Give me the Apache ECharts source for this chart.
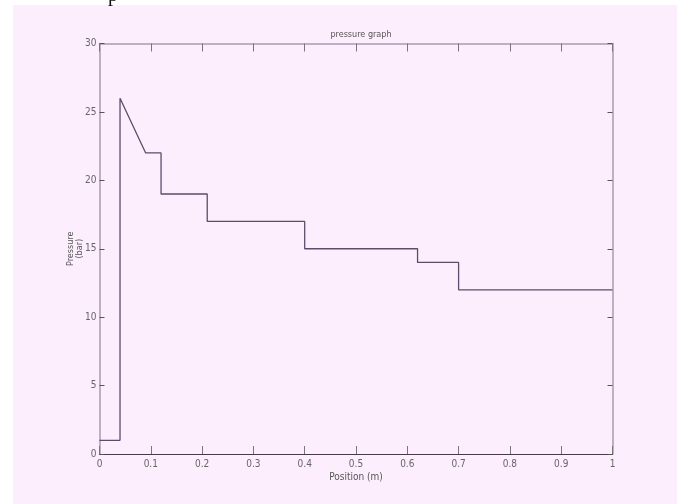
<!DOCTYPE html>
<html>
<head>
<meta charset="utf-8">
<script src="https://cdn.jsdelivr.net/npm/echarts@6/dist/echarts.min.js"></script>
<style>
html,body{margin:0;padding:0;background:#fff;}
#c{width:680px;height:504px;}
</style>
</head>
<body>
<div id="c"></div>
<script>
const positions = [0, 0.04, 0.04, 0.09, 0.12, 0.12, 0.21, 0.21, 0.40, 0.40, 0.62, 0.62, 0.70, 0.70, 1.0];
const pressures = [1, 1, 26, 22, 22, 19, 19, 17, 17, 15, 15, 14, 14, 12, 12];
const titleText = 'pressure graph';
const xName = 'Position (m)';
const yName = 'Pressure\n(bar)';

const chart = echarts.init(document.getElementById('c'), null, {renderer: 'canvas'});
const font = '"Liberation Sans Narrow", "DejaVu Sans Condensed", "Liberation Sans", sans-serif';
const labelColor = '#666';
const axisLight = '#a99bb0';
const axisDark = '#4a3a4c';
const data = positions.map((x, i) => [x, pressures[i]]);

chart.setOption({
  backgroundColor: '#ffffff',
  animation: false,
  graphic: [
    {type: 'rect', shape: {x: 13, y: 5, width: 664, height: 499}, style: {fill: '#fdeefd'}, z: -10},
    {type: 'text', left: 108, top: -14, style: {text: 'p', font: '20px "Liberation Serif", serif', fill: '#111'}, z: 10}
  ],
  title: {
    text: titleText, left: 356, top: 25, textAlign: 'center',
    textStyle: {fontFamily: font, fontSize: 9, fontWeight: 'normal', color: '#555'}
  },
  grid: {left: 99.5, right: 67.5, top: 43.5, bottom: 50, containLabel: false},
  xAxis: [
    {
      type: 'value', min: 0, max: 1, interval: 0.1, position: 'bottom',
      name: xName, nameLocation: 'middle', nameGap: 18, nameMoveOverlap: false,
      nameTextStyle: {fontFamily: font, fontSize: 10, color: '#555'},
      axisLine: {show: true, onZero: false, lineStyle: {color: axisDark, width: 1.2}},
      axisTick: {show: true, inside: true, length: 8, lineStyle: {color: '#777'}},
      axisLabel: {fontFamily: font, fontSize: 10, color: labelColor, margin: 5,
        formatter: v => (Math.round(v * 10) / 10).toString()},
      splitLine: {show: false}
    },
    {
      type: 'value', min: 0, max: 1, interval: 0.1, position: 'top',
      axisLine: {show: true, onZero: false, lineStyle: {color: axisLight, width: 1.5}},
      axisTick: {show: true, inside: true, length: 8, lineStyle: {color: '#777'}},
      axisLabel: {show: false},
      splitLine: {show: false}
    }
  ],
  yAxis: [
    {
      type: 'value', min: 0, max: 30, interval: 5, position: 'left',
      name: yName, nameLocation: 'middle', nameGap: 15, nameRotate: 90, nameMoveOverlap: false,
      nameTextStyle: {fontFamily: font, fontSize: 9, color: '#555', lineHeight: 9},
      axisLine: {show: true, onZero: false, lineStyle: {color: axisLight, width: 1.5}},
      axisTick: {show: true, inside: true, length: 5, lineStyle: {color: '#555'}},
      axisLabel: {fontFamily: font, fontSize: 10, color: labelColor, margin: 3},
      splitLine: {show: false}
    },
    {
      type: 'value', min: 0, max: 30, interval: 5, position: 'right',
      axisLine: {show: true, onZero: false, lineStyle: {color: axisLight, width: 1.5}},
      axisTick: {show: true, inside: true, length: 5, lineStyle: {color: '#555'}},
      axisLabel: {show: false},
      splitLine: {show: false}
    }
  ],
  series: [{
    type: 'line', data: data, xAxisIndex: 0, yAxisIndex: 0,
    showSymbol: false, symbol: 'none',
    lineStyle: {color: '#5c4c6c', width: 1.3},
    z: 5
  }]
});
</script>
</body>
</html>
